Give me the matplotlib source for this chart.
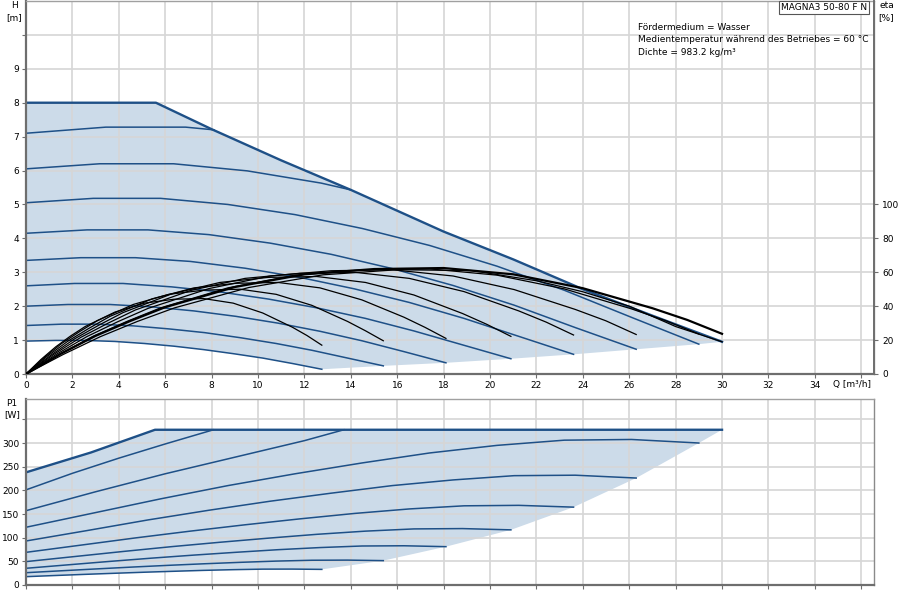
import matplotlib
matplotlib.use("Agg")
import matplotlib.pyplot as plt
import numpy as np

plt.rcParams['font.family'] = ['DejaVu Sans']
plt.rcParams['font.size'] = 6.5

line_blue = '#1e5087'
fill_blue = '#ccdbe9'
grid_grey = '#d6d6d6'
spine_dark = '#6e6e6e'

# ---------- Q-H curves, H in m, Q in m3/h ----------
h_max_q = [0, 5.6, 8, 11, 14, 18, 21, 24, 27, 30]
h_max = [8.0, 8.0, 7.22, 6.3, 5.43, 4.2, 3.38, 2.5, 1.72, 0.95]

h9_q = [0, 3.44, 6.88, 8.1]
h9 = [7.1, 7.28, 7.28, 7.2]
h8_q = [0, 3.18, 6.36, 9.54, 12.72, 14]
h8 = [6.05, 6.2, 6.2, 5.99, 5.63, 5.43]
h7_q = [0, 2.9, 5.8, 8.7, 11.6, 14.5, 17.4, 20.3, 23.2, 26.1, 29.0]
h7 = [5.05, 5.18, 5.18, 5.0, 4.7, 4.29, 3.79, 3.18, 2.47, 1.67, 0.88]
h6_q = [0, 2.63, 5.26, 7.89, 10.52, 13.15, 15.78, 18.41, 21.04, 23.67, 26.3]
h6 = [4.15, 4.25, 4.25, 4.11, 3.86, 3.53, 3.11, 2.61, 2.03, 1.37, 0.73]
h5_q = [0, 2.36, 4.72, 7.08, 9.44, 11.8, 14.16, 16.52, 18.88, 21.24, 23.6]
h5 = [3.35, 3.43, 3.43, 3.32, 3.12, 2.85, 2.51, 2.11, 1.64, 1.11, 0.58]
h4_q = [0, 2.09, 4.18, 6.27, 8.36, 10.45, 12.54, 14.63, 16.72, 18.81, 20.9]
h4 = [2.6, 2.67, 2.67, 2.57, 2.42, 2.21, 1.95, 1.64, 1.27, 0.86, 0.45]
h3_q = [0, 1.81, 3.62, 5.43, 7.24, 9.05, 10.86, 12.67, 14.48, 16.29, 18.1]
h3 = [2.0, 2.05, 2.05, 1.98, 1.86, 1.70, 1.50, 1.26, 0.98, 0.66, 0.33]
h2_q = [0, 1.54, 3.08, 4.62, 6.16, 7.7, 9.24, 10.78, 12.32, 13.86, 15.4]
h2 = [1.43, 1.47, 1.47, 1.42, 1.33, 1.22, 1.07, 0.90, 0.70, 0.47, 0.24]
h1_q = [0, 1.28, 2.55, 3.83, 5.1, 6.38, 7.65, 8.93, 10.2, 11.48, 12.75]
h1 = [0.97, 0.99, 0.99, 0.96, 0.90, 0.82, 0.72, 0.60, 0.47, 0.31, 0.14]

# ---------- efficiency curves, eta in % ----------
eta_a_q = [0, 0.64, 1.28, 1.91, 2.55, 3.83, 5.1, 6.38, 7.65, 8.93, 10.2, 11.48, 12.11, 12.75]
eta_a = [0, 8.5, 16, 22.3, 28, 36.5, 41.8, 44.1, 44.5, 41.8, 36, 27.6, 22.7, 17]
eta_b_q = [0, 0.77, 1.54, 2.31, 3.08, 4.62, 6.16, 7.7, 9.24, 10.78, 12.32, 13.86, 14.63, 15.4]
eta_b = [0, 9.5, 18, 25, 31.5, 41, 47, 49.5, 50, 47, 40.5, 31, 25.5, 19.6]
eta_c_q = [0, 0.9, 1.81, 2.72, 3.62, 5.43, 7.24, 9.05, 10.86, 12.67, 14.48, 16.29, 17.2, 18.1]
eta_c = [0, 10.3, 19.4, 27, 34, 44.3, 50.8, 53.5, 54, 50.8, 43.7, 33.5, 27.5, 21]
eta_d_q = [0, 1.05, 2.09, 3.14, 4.18, 6.27, 8.36, 10.45, 12.54, 14.63, 16.72, 18.81, 19.86, 20.9]
eta_d = [0, 10.9, 20.7, 28.8, 36.2, 47.2, 54, 57, 57.5, 54, 46.6, 35.7, 29.3, 22.2]
eta_e_q = [0, 1.18, 2.36, 3.54, 4.72, 7.08, 9.44, 11.8, 14.16, 16.52, 18.88, 21.24, 22.42, 23.6]
eta_e = [0, 11.4, 21.6, 30, 37.8, 49.2, 56.4, 59.4, 60, 56.4, 48.6, 37.2, 30.6, 23]
eta_f_q = [0, 1.32, 2.63, 3.95, 5.26, 7.89, 10.52, 13.15, 15.78, 18.41, 21.04, 23.67, 24.99, 26.3]
eta_f = [0, 11.7, 22.1, 30.8, 38.7, 50.4, 57.8, 60.9, 61.5, 57.8, 49.8, 38.1, 31.4, 23.3]
eta_g_q = [0, 1.45, 2.9, 4.35, 5.8, 8.7, 11.6, 14.5, 17.4, 20.3, 23.2, 26.1, 27.55, 29.0]
eta_g = [0, 11.8, 22.3, 31, 39, 50.8, 58.3, 61.4, 62, 58.3, 50.2, 38.4, 31.6, 23.6]
eta_lim_q = [0, 1.6, 3.2, 4.8, 6.4, 9.6, 12.8, 16, 19.2, 22, 24, 26, 28, 30]
eta_lim = [0, 11.5, 22, 31, 39, 51, 58.5, 61.5, 61, 55, 48.5, 40, 28, 19]
eta_max_q = [0, 1.5, 3, 4.5, 6, 9, 12, 15, 18, 21, 24, 27, 28.5, 30]
eta_max = [0, 11.9, 22.5, 31.3, 39.4, 51.3, 58.8, 61.9, 62.5, 58.8, 50.6, 38.8, 31.9, 23.7]

# ---------- power curves, P1 in W ----------
p_max_q = [0, 2.8, 5.56, 30]
p_max = [238, 280, 328, 328]
p9_q = [0, 2, 4, 6, 8.08]
p9 = [201, 236, 268, 298, 328]
p8_q = [0, 3, 6, 9, 12, 13.7]
p8 = [157, 197, 235, 270, 305, 328]
p7_q = [0, 2.9, 5.8, 8.7, 11.6, 14.5, 17.4, 20.3, 23.2, 26.1, 29.0]
p7 = [122, 152, 182, 210, 235, 258, 279, 295, 306, 307.5, 300]
p6_q = [0, 2.63, 5.26, 7.89, 10.52, 13.15, 15.78, 18.41, 21.04, 23.67, 26.3]
p6 = [93, 115, 137.5, 158, 177, 194, 210, 222, 231, 232, 226]
p5_q = [0, 2.36, 4.72, 7.08, 9.44, 11.8, 14.16, 16.52, 18.88, 21.24, 23.6]
p5 = [69, 84.2, 99.5, 113.8, 127.2, 139.7, 151.2, 160.7, 167.3, 168.3, 164.5]
p4_q = [0, 2.09, 4.18, 6.27, 8.36, 10.45, 12.54, 14.63, 16.72, 18.81, 20.9]
p4 = [49.4, 60.1, 70.8, 81, 90.3, 99, 107.1, 113.8, 118.5, 119.2, 116.5]
p3_q = [0, 1.81, 3.62, 5.43, 7.24, 9.05, 10.86, 12.67, 14.48, 16.29, 18.1]
p3 = [35.3, 42.6, 49.9, 56.8, 63.2, 69.1, 74.6, 79.1, 82.4, 82.9, 81]
p2_q = [0, 1.54, 3.08, 4.62, 6.16, 7.7, 9.24, 10.78, 12.32, 13.86, 15.4]
p2 = [26, 30.1, 34.1, 38, 41.6, 44.9, 47.9, 50.5, 52.3, 52.6, 51.5]
p1_q = [0, 1.28, 2.55, 3.83, 5.1, 6.38, 7.65, 8.93, 10.2, 11.48, 12.75]
p1 = [17.6, 20.1, 22.5, 24.8, 27.0, 29.0, 30.9, 32.4, 33.5, 33.6, 33.0]

x_ticks = list(range(0, 37, 2))
x_labels = [str(v) for v in x_ticks[:-1]] + ['']
h_ticks = list(range(0, 11))
h_labels = [str(v) for v in h_ticks[:-1]] + ['']
eta_ticks = [0, 20, 40, 60, 80, 100]
p_ticks = list(range(0, 351, 50))
p_labels = [str(v) for v in p_ticks[:-1]] + ['']

info_lines = ['Fördermedium = Wasser',
              'Medientemperatur während des Betriebes = 60 °C',
              'Dichte = 983.2 kg/m³']


def style_axes(a):
    a.set_axisbelow('line')
    a.grid(True, color=grid_grey, linewidth=1.2)
    for side in ['top', 'right']:
        a.spines[side].set_color('#a0a0a0')
        a.spines[side].set_linewidth(1.0)
    for side in ['left', 'bottom']:
        a.spines[side].set_color(spine_dark)
        a.spines[side].set_linewidth(1.6)
    a.tick_params(length=3, width=0.8, color=spine_dark, pad=2, labelsize=6.5)


fig = plt.figure(figsize=(9, 6), dpi=100)

# ---------- upper chart: head + efficiency ----------
ax = fig.add_axes([26 / 900, 1 - 374 / 600, 848 / 900, 373 / 600])
style_axes(ax)
ax.set_xlim(0, 36.55)
ax.set_ylim(0, 11)
ax.set_xticks(x_ticks)
ax.set_xticklabels(x_labels)
ax.set_yticks(h_ticks)
ax.set_yticklabels(h_labels)

h_curves = [(h1_q, h1), (h2_q, h2), (h3_q, h3), (h4_q, h4), (h5_q, h5),
            (h6_q, h6), (h7_q, h7), (h8_q, h8), (h9_q, h9)]
ends_q = [c[0][-1] for c in h_curves[:7]] + [h_max_q[-1]]
ends_h = [c[1][-1] for c in h_curves[:7]] + [h_max[-1]]
poly_q = list(h_max_q) + ends_q[::-1] + h1_q[::-1]
poly_h = list(h_max) + ends_h[::-1] + h1[::-1]
ax.fill(poly_q, poly_h, color=fill_blue, linewidth=0, zorder=1)

for q, h in h_curves:
    ax.plot(q, h, color=line_blue, linewidth=1.1, zorder=2)
ax.plot(h_max_q, h_max, color=line_blue, linewidth=1.7, zorder=2.5)

ax2 = ax.twinx()
ax2.set_ylim(0, 220)
ax2.set_yticks(eta_ticks)
ax2.spines['right'].set_color(spine_dark)
ax2.spines['right'].set_linewidth(1.4)
for side in ['top', 'left', 'bottom']:
    ax2.spines[side].set_visible(False)
ax2.tick_params(length=3, width=0.8, color=spine_dark, pad=3, labelsize=6.5)

eta_curves = [(eta_a_q, eta_a), (eta_b_q, eta_b), (eta_c_q, eta_c), (eta_d_q, eta_d),
              (eta_e_q, eta_e), (eta_f_q, eta_f), (eta_g_q, eta_g), (eta_lim_q, eta_lim)]
for q, e in eta_curves:
    ax2.plot(q, e, color='black', linewidth=0.9)
ax2.plot(eta_max_q, eta_max, color='black', linewidth=1.6)

# ---------- lower chart: power ----------
axp = fig.add_axes([26 / 900, 15 / 600, 848 / 900, 186 / 600])
style_axes(axp)
axp.spines['right'].set_color('#8a8a8a')
axp.set_xlim(0, 36.55)
axp.set_ylim(0, 393)
axp.set_xticks(x_ticks)
axp.set_xticklabels([])
axp.set_yticks(p_ticks)
axp.set_yticklabels(p_labels)

p_curves = [(p1_q, p1), (p2_q, p2), (p3_q, p3), (p4_q, p4), (p5_q, p5),
            (p6_q, p6), (p7_q, p7), (p8_q, p8), (p9_q, p9)]
pend_q = [c[0][-1] for c in p_curves[:7]] + [p_max_q[-1]]
pend = [c[1][-1] for c in p_curves[:7]] + [p_max[-1]]
ppoly_q = list(p_max_q) + pend_q[::-1] + p1_q[::-1]
ppoly = list(p_max) + pend[::-1] + p1[::-1]
axp.fill(ppoly_q, ppoly, color=fill_blue, linewidth=0, zorder=1)
for q, p in p_curves:
    axp.plot(q, p, color=line_blue, linewidth=1.1, zorder=2)
axp.plot(p_max_q, p_max, color=line_blue, linewidth=1.7, zorder=2.5)

# ---------- texts ----------
def px(x, y):
    return x / 900, 1 - y / 600

fig.text(*px(14, 6), 'H', ha='center', va='center')
fig.text(*px(14, 18), '[m]', ha='center', va='center')
fig.text(*px(887, 6), 'eta', ha='center', va='center')
fig.text(*px(886, 18), '[%]', ha='center', va='center')
fig.text(*px(833, 384), 'Q [m³/h]', ha='left', va='center')
fig.text(*px(12, 403), 'P1', ha='center', va='center')
fig.text(*px(12, 415), '[W]', ha='center', va='center')
fig.text(*px(824, 7.5), 'MAGNA3 50-80 F N', ha='center', va='center',
         bbox=dict(boxstyle='square,pad=0.25', facecolor='white', edgecolor='#555555', linewidth=0.8))
for i, line in enumerate(info_lines):
    fig.text(*px(638, 27 + 12.6 * i), line, ha='left', va='center')

fig.savefig('out.png', dpi=100)
